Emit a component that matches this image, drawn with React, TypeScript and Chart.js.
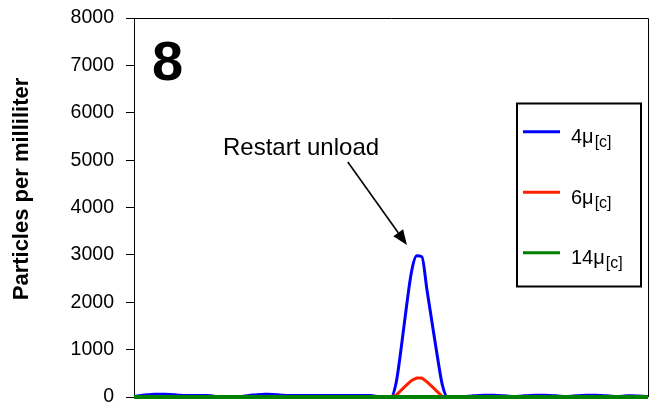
import React, { useEffect, useRef } from "react";
import { Chart, registerables } from "chart.js";

Chart.register(...registerables);

// ---- data ----
const seriesLabels = ["4μ", "6μ", "14μ"];
const seriesSubscript = "[c]";
const seriesColors = ["#0000FF", "#FF2000", "#008000"];
const yAxisTitle = "Particles per milliliter";
const panelLabel = "8";
const annotationText = "Restart unload";
const yMin = 0;
const yMax = 8000;
const yStep = 1000;

const blue4 = [
  10, 25, 40, 50, 60, 60, 60, 55, 45, 35,
  30, 30, 30, 30, 30, 25, 10, 0, 0, 0,
  0, 10, 25, 40, 50, 55, 60, 55, 45, 35,
  30, 30, 30, 30, 30, 30, 30, 30, 30, 30,
  30, 30, 30, 30, 30, 30, 30, 15, 0, 0,
  0, 300, 1050, 1900, 2650, 2980, 2960, 2260, 1560, 870,
  250, 0, 0, 0, 5, 15, 25, 30, 35, 35,
  35, 30, 25, 15, 10, 15, 25, 30, 35, 35,
  35, 30, 25, 15, 10, 15, 25, 30, 35, 35,
  35, 30, 25, 15, 10, 15, 25, 25, 20, 15,
  10,
];

const red6 = [
  0, 0, 0, 0, 0, 0, 0, 0, 0, 0,
  0, 0, 0, 0, 0, 0, 0, 0, 0, 0,
  0, 0, 0, 0, 0, 0, 0, 0, 0, 0,
  0, 0, 0, 0, 0, 0, 0, 0, 0, 0,
  0, 0, 0, 0, 0, 0, 0, 0, 0, 0,
  0, 40, 145, 250, 350, 400, 400, 320, 220, 115,
  10, 0, 0, 0, 0, 0, 0, 0, 0, 0,
  0, 0, 0, 0, 0, 0, 0, 0, 0, 0,
  0, 0, 0, 0, 0, 0, 0, 0, 0, 0,
  0, 0, 0, 0, 0, 0, 0, 0, 0, 0,
  0,
];

const green14 = [
  0, 0, 0, 0, 0, 0, 0, 0, 0, 0,
  0, 0, 0, 0, 0, 0, 0, 0, 0, 0,
  0, 0, 0, 0, 0, 0, 0, 0, 0, 0,
  0, 0, 0, 0, 0, 0, 0, 0, 0, 0,
  0, 0, 0, 0, 0, 0, 0, 0, 0, 0,
  0, 0, 0, 0, 0, 0, 0, 0, 0, 0,
  0, 0, 0, 0, 0, 0, 0, 0, 0, 0,
  0, 0, 0, 0, 0, 0, 0, 0, 0, 0,
  0, 0, 0, 0, 0, 0, 0, 0, 0, 0,
  0, 0, 0, 0, 0, 0, 0, 0, 0, 0,
  0,
];

const samples = blue4.map((_, i) => String(i + 1));

const FONT = "'Liberation Sans', Arial, sans-serif";
const SHIFT = 40; // canvas is shifted up by this much inside the page

const overlayPlugin = {
  id: "overlay",
  afterDraw(chart: any) {
    const ctx = chart.ctx as CanvasRenderingContext2D;
    const area = chart.chartArea;
    const xs = chart.scales.x;
    const ys = chart.scales.y;
    ctx.save();

    // frame (top, right)
    ctx.strokeStyle = "#000";
    ctx.lineWidth = 1;
    ctx.beginPath();
    ctx.moveTo(area.left, Math.round(area.top) + 0.5);
    ctx.lineTo(Math.round(area.right) + 0.5, Math.round(area.top) + 0.5);
    ctx.lineTo(Math.round(area.right) + 0.5, area.bottom);
    ctx.stroke();

    // y-axis title
    ctx.save();
    ctx.translate(22, 189 + SHIFT);
    ctx.rotate(-Math.PI / 2);
    ctx.fillStyle = "#000";
    ctx.font = `bold 22px ${FONT}`;
    ctx.textAlign = "center";
    ctx.textBaseline = "middle";
    ctx.fillText(yAxisTitle, 0, 0);
    ctx.restore();

    // panel label
    ctx.fillStyle = "#000";
    ctx.font = `bold 56px ${FONT}`;
    ctx.textAlign = "left";
    ctx.textBaseline = "alphabetic";
    ctx.fillText(panelLabel, 152, 80 + SHIFT);

    // annotation text & arrow (data units)
    ctx.font = `24px ${FONT}`;
    ctx.textAlign = "center";
    ctx.fillText(annotationText, xs.getPixelForValue(32.5), ys.getPixelForValue(5108));
    const x0 = xs.getPixelForValue(41.6);
    const y0 = ys.getPixelForValue(4960);
    const x1 = xs.getPixelForValue(53.1);
    const y1 = ys.getPixelForValue(3208);
    const ang = Math.atan2(y1 - y0, x1 - x0);
    const headLen = 15;
    const headW = 6;
    ctx.strokeStyle = "#000";
    ctx.lineWidth = 1.6;
    ctx.beginPath();
    ctx.moveTo(x0, y0);
    ctx.lineTo(x1 - headLen * Math.cos(ang), y1 - headLen * Math.sin(ang));
    ctx.stroke();
    ctx.beginPath();
    ctx.moveTo(x1, y1);
    ctx.lineTo(
      x1 - headLen * Math.cos(ang) + headW * Math.sin(ang),
      y1 - headLen * Math.sin(ang) - headW * Math.cos(ang)
    );
    ctx.lineTo(
      x1 - headLen * Math.cos(ang) - headW * Math.sin(ang),
      y1 - headLen * Math.sin(ang) + headW * Math.cos(ang)
    );
    ctx.closePath();
    ctx.fill();

    // legend box
    const top = 103.5 + SHIFT;
    ctx.fillStyle = "#fff";
    ctx.fillRect(517, top, 124, 183);
    ctx.strokeStyle = "#000";
    ctx.lineWidth = 2;
    ctx.strokeRect(517, top, 124, 183);
    chart.data.datasets.forEach((ds: any, i: number) => {
      const ly = top + 28.2 + i * 60.5;
      ctx.strokeStyle = ds.borderColor;
      ctx.lineWidth = 3;
      ctx.beginPath();
      ctx.moveTo(523, ly);
      ctx.lineTo(560, ly);
      ctx.stroke();
      ctx.fillStyle = "#000";
      ctx.textAlign = "left";
      ctx.textBaseline = "alphabetic";
      ctx.font = `20px ${FONT}`;
      const base = ly + 11.3;
      ctx.fillText(ds.label, 571, base);
      const w = ctx.measureText(ds.label).width;
      ctx.font = `16px ${FONT}`;
      ctx.fillText(seriesSubscript, 571 + w + 1, base + 4);
    });

    ctx.restore();
  },
};

export default function App() {
  const ref = useRef<HTMLCanvasElement | null>(null);

  useEffect(() => {
    if (!ref.current) return;
    const seriesData = [blue4, red6, green14];
    const chart = new Chart(ref.current, {
      type: "line",
      data: {
        labels: samples,
        datasets: seriesLabels.map((label, i) => ({
          label,
          data: seriesData[i],
          borderColor: seriesColors[i],
          backgroundColor: seriesColors[i],
          borderWidth: i === 2 ? 4 : 3,
          pointRadius: 0,
          tension: i === 0 ? 0.2 : 0,
          cubicInterpolationMode: i === 0 ? ("monotone" as const) : ("default" as const),
          clip: false as any,
          order: 2 - i,
        })),
      },
      options: {
        animation: false,
        responsive: false,
        devicePixelRatio: 1,
        layout: { padding: { top: 18 + SHIFT, bottom: 500 - 397 - SHIFT, left: 0, right: 5 } },
        plugins: {
          legend: { display: false },
          tooltip: { enabled: false },
        },
        scales: {
          x: { display: false },
          y: {
            min: yMin,
            max: yMax,
            ticks: {
              stepSize: yStep,
              color: "#000",
              font: { family: FONT, size: 19.5 },
              padding: 12,
              callback: (v: any) => String(v),
            },
            grid: {
              drawOnChartArea: false,
              drawTicks: true,
              tickLength: 8,
              color: "#000",
              lineWidth: 1,
            },
            border: { display: true, color: "#000", width: 1 },
            afterFit: (s: any) => {
              s.width = 134;
            },
          },
        },
      },
      plugins: [overlayPlugin],
    });
    return () => chart.destroy();
  }, []);

  return (
    <div style={{ position: "absolute", left: 0, top: 0, width: 653, height: 402, overflow: "hidden", background: "#fff" }}>
      <canvas
        ref={ref}
        width={653}
        height={500}
        style={{ display: "block", position: "absolute", left: 0, top: -SHIFT }}
      />
    </div>
  );
}
